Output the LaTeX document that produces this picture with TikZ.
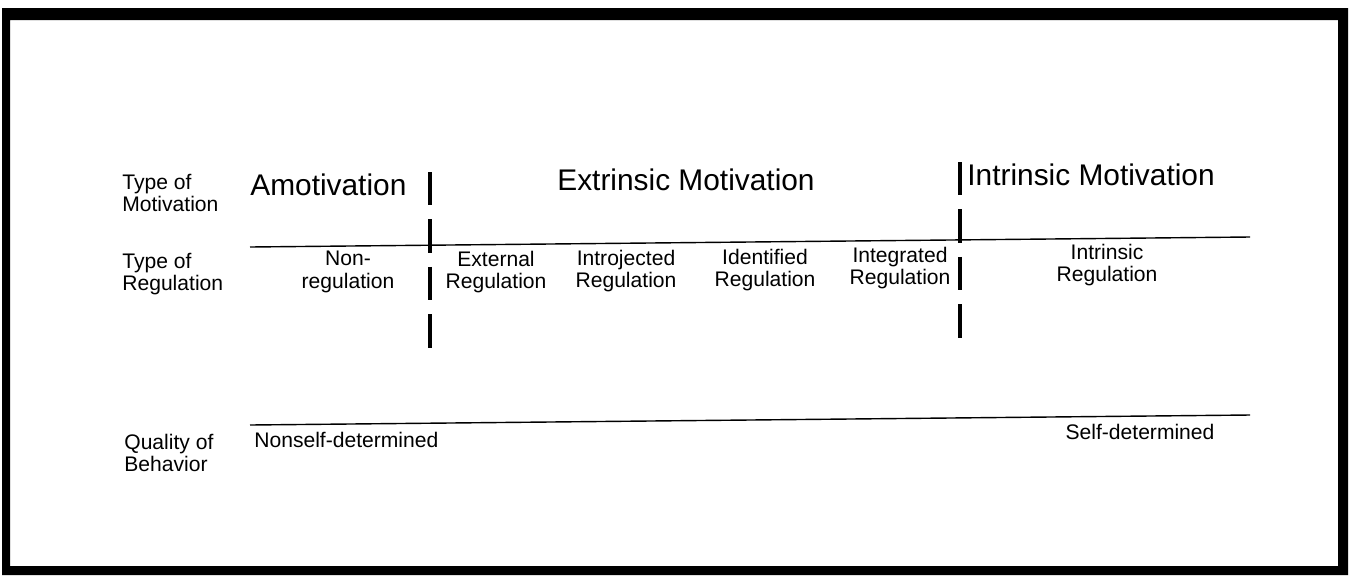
\documentclass[tikz,border=0pt]{standalone}
\usepackage{fontspec}
\setmainfont{Liberation Sans}
\begin{document}
\begin{tikzpicture}[x=0.02cm, y=-0.02cm,
    rowlabel/.style={anchor=west, align=left, inner sep=0pt, font=\fontsize{12}{13}\selectfont},
    cell/.style={align=center, inner sep=0pt, font=\fontsize{12}{13}\selectfont},
    head/.style={inner sep=0pt, font=\fontsize{17}{19}\selectfont},
    divider/.style={line width=2.2pt, dash pattern=on 19pt off 8pt},
    rule/.style={line width=0.8pt}]
    \useasboundingbox (0,0) rectangle (1354,575);
    % Rahmen
    \fill[even odd rule] (2,8) rectangle (1348,575) (10,20) rectangle (1338,566);

    % Zeilenbeschriftungen
    \node[rowlabel] (motiv) at (122,193) {Type of\\Motivation};
    \node[rowlabel] (regul) at (122,274) {Type of\\Regulation};
    \node[rowlabel] (quali) at (124,453) {Quality of\\Behavior};

    % Motivationsarten
    \node[head, anchor=west] (amot) at (250,185) {Amotivation};
    \node[head] (extr) at (686,180) {Extrinsic Motivation};
    \node[head, anchor=west] (intr) at (967,175) {Intrinsic Motivation};

    % Regulationsarten
    \node[cell] (nonreg) at (348,272) {Non-\\regulation};
    \node[cell] (extreg) at (496,272) {External\\Regulation};
    \node[cell] (introreg) at (626,271) {Introjected\\Regulation};
    \node[cell] (identreg) at (765,270) {Identified\\Regulation};
    \node[cell] (integreg) at (900,268) {Integrated\\Regulation};
    \node[cell] (intrreg) at (1107,265) {Intrinsic\\Regulation};

    % Verhaltensqualitaet
    \node[cell, anchor=west] (nonself) at (254,440) {Nonself-determined};
    \node[cell] (self) at (1140,432) {Self-determined};

    % Linien
    \draw[rule] (250,247) -- (1250,237);
    \draw[rule] (250,425) -- (1250,415);
    \draw[divider] (430,172) -- (430,352);
    \draw[divider] (960,162) -- (960,345);
\end{tikzpicture}
\end{document}
